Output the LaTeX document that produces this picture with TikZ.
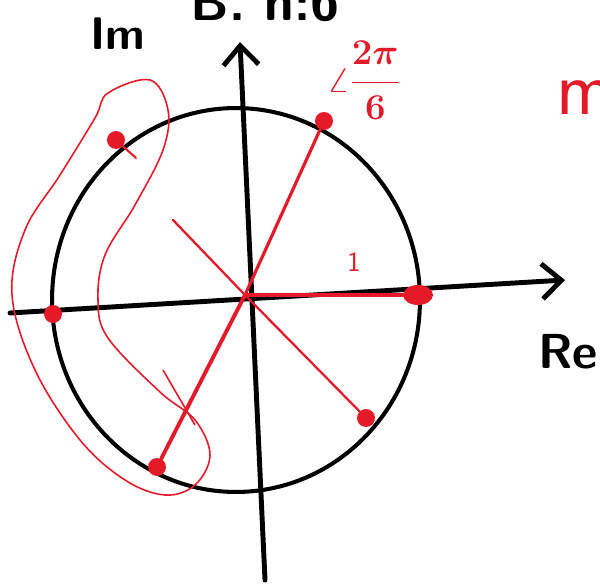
\documentclass[tikz,border=0pt]{standalone}
\usepackage{tikz}
\usetikzlibrary{arrows.meta,shapes.geometric}
\definecolor{inkred}{RGB}{228,26,40}

\begin{document}
\begin{tikzpicture}[
  x=0.02cm, y=-0.02cm,
  axisline/.style={
    line width=2.8pt,
    line cap=round,
    -{Straight Barb[length=11pt,width=20pt,line width=2.8pt]}
  },
  rootdot/.style={
    circle,
    fill=inkred,
    inner sep=0pt,
    minimum size=0.36cm
  },
  rootray/.style={
    draw=inkred,
    line width=1.8pt,
    line cap=round
  },
  hand/.style={
    font=\sffamily\bfseries\fontsize{26}{26}\selectfont
  }
]
\useasboundingbox (0,0) rectangle (600,585);
% unit circle
\draw[line width=2.3pt] (236,300) ellipse [x radius=3.68cm, y radius=3.84cm];
% axes
\coordinate (re0) at (10,313);
\coordinate (re1) at (565,280);
\coordinate (im0) at (265,580);
\coordinate (im1) at (240,42);
\draw[axisline] (re0) -- (re1);
\draw[axisline] (im0) -- (im1);
\node[hand] (im) at (118,34) {Im};
\node[hand,font=\sffamily\bfseries\fontsize{28}{28}\selectfont] (re) at (568,352) {Re};
\node[hand,font=\sffamily\bfseries\fontsize{30}{30}\selectfont] (title) at (265,2) {B.\ n:6};
% roots
\coordinate (O) at (245,295);
\node[rootdot,ellipse,minimum width=0.6cm,minimum height=0.4cm] (w0) at (418,295) {};
\node[rootdot] (w1) at (324,121) {};
\node[rootdot] (w2) at (116,140) {};
\node[rootdot] (w3) at (53,314) {};
\node[rootdot] (w4) at (157,467) {};
\node[rootdot] (w5) at (366,418) {};
\draw[rootray] (O) -- (w0);
\draw[rootray] (O) -- (w1);
\draw[rootray,line width=1.3pt] (O) -- (w5);
\draw[rootray,line width=2.2pt] (O) -- (w4);
\coordinate (ray2) at (173,220);
\draw[rootray,line width=1.3pt] (O) -- (ray2);
\draw[rootray,line width=1.2pt] (w2) -- (136,158);
% labels
\node[text=inkred,font=\sffamily\fontsize{16}{16}\selectfont] (one) at (354,262) {1};
\node[text=inkred,font=\fontsize{22}{22}\selectfont\boldmath] (ang) at (364,80) {$\angle\displaystyle\frac{2\pi}{6}$};
\node[hand,text=inkred,font=\sffamily\fontsize{44}{44}\selectfont] (m) at (585,98) {m};
% loop round the left roots
\draw[inkred,line width=0.9pt] plot[smooth cycle,tension=0.6] coordinates {
  (108,93) (150,80) (168,110) (163,150) (135,205) (105,255) (98,300)
  (108,338) (160,392) (195,420) (210,455) (195,485) (165,495) (125,480)
  (80,440) (35,370) (12,295) (25,230) (60,175) (95,118)};
\draw[inkred,line width=0.9pt] (163,370) -- (195,425);
\end{tikzpicture}
\end{document}
